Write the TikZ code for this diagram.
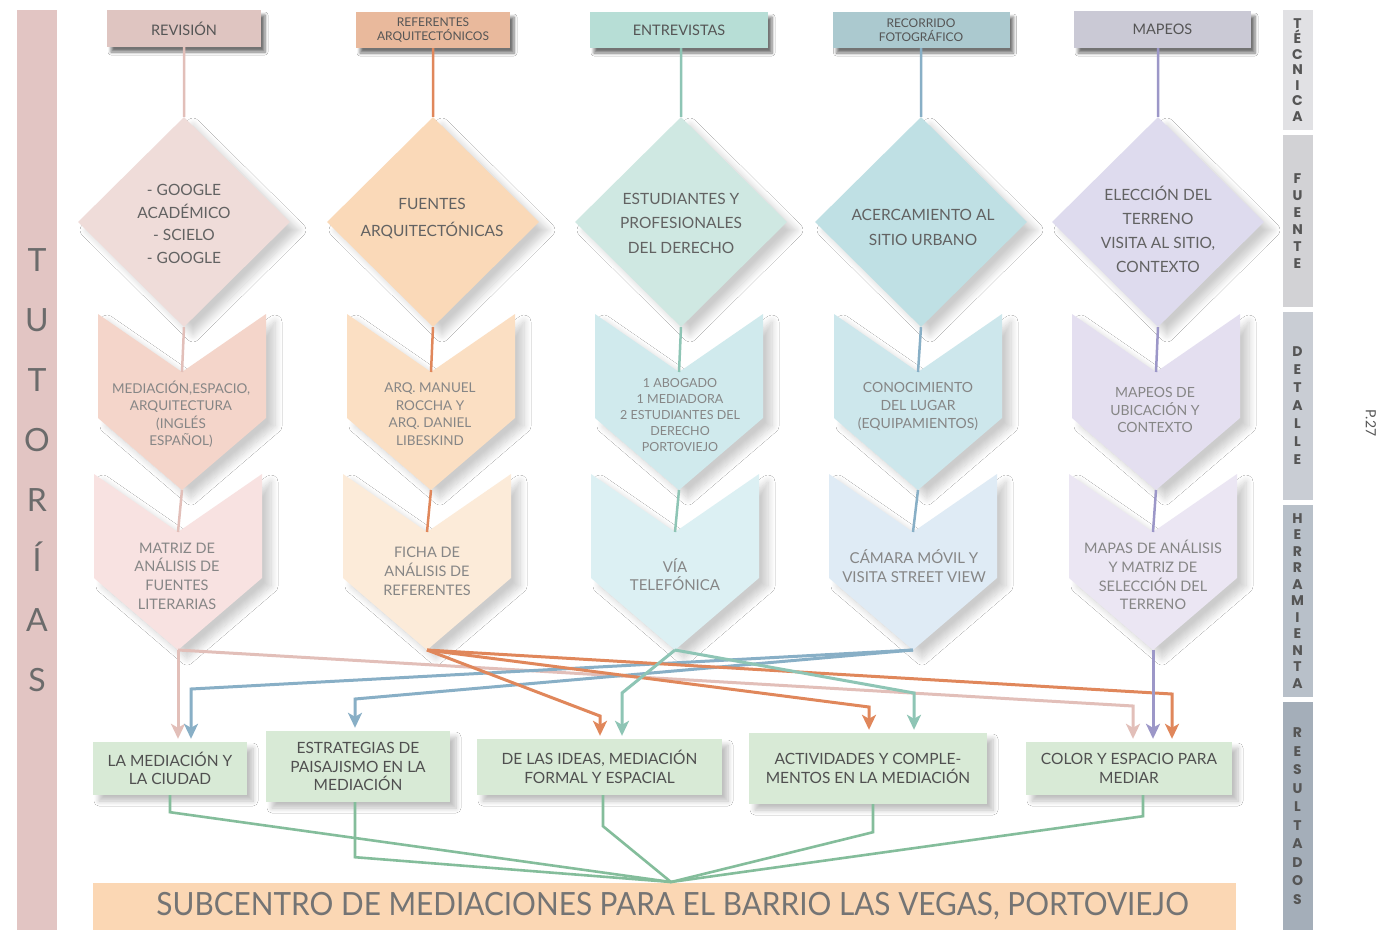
\documentclass[tikz,border=0pt]{standalone}
\usepackage{fontspec}
\setmainfont{Lato}
\newfontfamily\labfont{Poppins}
\usetikzlibrary{arrows.meta,shadows.blur,shapes.geometric}
\definecolor{ctut}{HTML}{E2C5C3}
\definecolor{ctutx}{HTML}{6B6B6B}
\definecolor{htxt}{HTML}{555555}
\definecolor{dtxt}{HTML}{626262}
\definecolor{ctxt}{HTML}{868686}
\definecolor{rtxt}{HTML}{505050}
\definecolor{btxt}{HTML}{747474}
\definecolor{hA}{HTML}{DFC5C1}
\definecolor{hB}{HTML}{E9B99C}
\definecolor{hC}{HTML}{B7DED6}
\definecolor{hD}{HTML}{ABC9CF}
\definecolor{hE}{HTML}{CAC9D5}
\definecolor{dA}{HTML}{EFDCD9}
\definecolor{dB}{HTML}{FAD9B8}
\definecolor{dC}{HTML}{CFE8E2}
\definecolor{dD}{HTML}{BFE0E4}
\definecolor{dE}{HTML}{DEDBEE}
\definecolor{oA}{HTML}{F4D5CA}
\definecolor{oB}{HTML}{FBDFC3}
\definecolor{oC}{HTML}{D0EAED}
\definecolor{oD}{HTML}{CDE7EC}
\definecolor{oE}{HTML}{E4DFF0}
\definecolor{tA}{HTML}{F8E2E1}
\definecolor{tB}{HTML}{FCEBD9}
\definecolor{tC}{HTML}{DCF0F3}
\definecolor{tD}{HTML}{DFEBF5}
\definecolor{tE}{HTML}{EBE6F3}
\definecolor{cres}{HTML}{D8EAD6}
\definecolor{cban}{HTML}{FBD7B4}
\definecolor{bA}{HTML}{E1E1E4}
\definecolor{bB}{HTML}{D2D2D5}
\definecolor{bC}{HTML}{C9CDD4}
\definecolor{bD}{HTML}{B8C0C9}
\definecolor{bE}{HTML}{A4AEB9}
\definecolor{lpink}{HTML}{E2BFB9}
\definecolor{lorange}{HTML}{E0875B}
\definecolor{lteal}{HTML}{8EC5B5}
\definecolor{lblue}{HTML}{88AFC6}
\definecolor{lpurple}{HTML}{9C97C8}
\definecolor{lgreen}{HTML}{84BD9B}
\tikzset{
  hdr/.style={fill=#1, minimum height=37pt, inner sep=0pt, align=center, text=htxt,
    blur shadow={shadow xshift=4pt,shadow yshift=-5pt,shadow opacity=55,shadow blur radius=3pt,shadow blur steps=6}},
  dia/.style={shape=diamond, aspect=1, fill=#1, minimum width=212pt, minimum height=210pt, inner sep=0pt,
    blur shadow={shadow xshift=9pt,shadow yshift=-8pt,shadow opacity=20,shadow blur radius=7pt,shadow blur steps=10}},
  chevsh/.style={blur shadow={shadow xshift=9pt,shadow yshift=-8pt,shadow opacity=20,shadow blur radius=7pt,shadow blur steps=10}},
  dtext/.style={align=center, text=dtxt, inner sep=0pt},
  ctext/.style={align=center, text=ctxt, inner sep=0pt},
  resbox/.style={fill=cres, inner sep=0pt, align=center, text=rtxt, font=\fontsize{15.5}{18.5}\selectfont,
    blur shadow={shadow xshift=6pt,shadow yshift=-6pt,shadow opacity=25,shadow blur radius=5pt,shadow blur steps=8}},
  rbar/.style={minimum width=30pt, inner sep=0pt, align=center, text=htxt},
  colline/.style={line width=2.5pt},
  arr/.style={line width=3pt, -{Stealth[length=15pt,width=14pt,inset=4pt]}, shorten >=3pt},
  gline/.style={line width=2.6pt, draw=lgreen},
}
\newcommand\chev[4]{%
  \path[fill=#4, chevsh] (#2-84,#3) -- (#2,#3+58) -- (#2+84,#3) -- (#2+84,#3+104) -- (#2,#3+176) -- (#2-84,#3+104) -- cycle;
  \coordinate (#1n) at (#2,#3+58);
  \coordinate (#1p) at (#2,#3+176);}
\begin{document}
\begin{tikzpicture}[x=1pt,y=-1pt]
\useasboundingbox (0,0) rectangle (1379,930);
\fill[white] (0,0) rectangle (1379,930);

% left bar
\node[fill=ctut, minimum width=40pt, minimum height=920pt, inner sep=0pt, align=center, text=ctutx,
  font=\fontsize{32}{60}\selectfont] (tut) at (37,470) {T\\U\\T\\O\\R\\Í\\A\\S};

% right bars
\node[rbar, fill=bA, minimum height=120pt, font=\labfont\bfseries\fontsize{14}{15.5}\selectfont] (tec) at (1297.5,70) {T\\É\\C\\N\\I\\C\\A};
\node[rbar, fill=bB, minimum height=172pt, font=\labfont\bfseries\fontsize{14}{17}\selectfont] (fue) at (1297.5,221) {F\\U\\E\\N\\T\\E};
\node[rbar, fill=bC, minimum height=188pt, font=\labfont\bfseries\fontsize{14}{18}\selectfont] (det) at (1297.5,406) {D\\E\\T\\A\\L\\L\\E};
\node[rbar, fill=bD, minimum height=192pt, font=\labfont\bfseries\fontsize{14}{16.5}\selectfont] (her) at (1297.5,601) {H\\E\\R\\R\\A\\M\\I\\E\\N\\T\\A};
\node[rbar, fill=bE, minimum height=228pt, font=\labfont\bfseries\fontsize{14}{18.5}\selectfont] (res) at (1297.5,816) {R\\E\\S\\U\\L\\T\\A\\D\\O\\S};
\node[rotate=-90, text=htxt, font=\fontsize{14}{14}\selectfont, inner sep=0pt] (pg) at (1371,423) {P.27};

% headers
\node[hdr=hA, minimum width=154pt, font=\fontsize{14.5}{16}\selectfont] (h1) at (184,28.5) {REVISIÓN};
\node[hdr=hB, minimum width=154pt, minimum height=36pt, font=\fontsize{12}{14.5}\selectfont] (h2) at (433,30) {REFERENTES\\ARQUITECTÓNICOS};
\node[hdr=hC, minimum width=178pt, minimum height=36pt, font=\fontsize{14.5}{16}\selectfont] (h3) at (679,30) {ENTREVISTAS};
\node[hdr=hD, minimum width=177pt, minimum height=36pt, font=\fontsize{12}{14.5}\selectfont] (h4) at (921,30) {RECORRIDO\\FOTOGRÁFICO};
\node[hdr=hE, minimum width=177pt, font=\fontsize{14.5}{16}\selectfont] (h5) at (1162.5,29.5) {MAPEOS};

% chevrons row 2
\chev{c21}{178}{474}{tA}
\chev{c22}{427}{474}{tB}
\chev{c23}{675}{474}{tC}
\chev{c24}{913}{474}{tD}
\chev{c25}{1153}{474}{tE}
% chevrons row 1
\chev{c11}{182}{314}{oA}
\chev{c12}{431}{314}{oB}
\chev{c13}{679}{314}{oC}
\chev{c14}{918}{314}{oD}
\chev{c15}{1156}{314}{oE}

% diamonds
\node[dia=dA] (d1) at (184,222) {};
\node[dia=dB] (d2) at (433,222) {};
\node[dia=dC] (d3) at (681,222) {};
\node[dia=dD] (d4) at (921,222) {};
\node[dia=dE] (d5) at (1158,222) {};

% column lines
\draw[colline, draw=lpink] (h1.south) -- (d1.north) (d1.south) -- (c11n) (c11p) -- (c21n);
\draw[colline, draw=lorange] (h2.south) -- (d2.north) (d2.south) -- (c12n) (c12p) -- (c22n);
\draw[colline, draw=lteal] (d3.north |- h3.south) -- (d3.north) (d3.south) -- (c13n) (c13p) -- (c23n);
\draw[colline, draw=lblue] (h4.south) -- (d4.north) (d4.south) -- (c14n) (c14p) -- (c24n);
\draw[colline, draw=lpurple] (d5.north |- h5.south) -- (d5.north) (d5.south) -- (c15n) (c15p) -- (c25n);

% diamond texts
\node[dtext, font=\fontsize{15.5}{22.5}\selectfont] (t1) at (184,224) {- GOOGLE\\ACADÉMICO\\- SCIELO\\- GOOGLE};
\node[dtext, font=\fontsize{15.5}{27}\selectfont] (t2) at (432,219) {FUENTES\\ARQUITECTÓNICAS};
\node[dtext, font=\fontsize{15.5}{24.5}\selectfont] (t3) at (681,223) {ESTUDIANTES Y\\PROFESIONALES\\DEL DERECHO};
\node[dtext, font=\fontsize{15.5}{25}\selectfont] (t4) at (923,227) {ACERCAMIENTO AL\\SITIO URBANO};
\node[dtext, font=\fontsize{15.5}{24}\selectfont] (t5) at (1158,229) {ELECCIÓN DEL\\TERRENO\\VISITA AL SITIO,\\CONTEXTO};

% chevron texts
\node[ctext, font=\fontsize{13.5}{17.5}\selectfont] (x11) at (181,414) {MEDIACIÓN,ESPACIO,\\ARQUITECTURA\\(INGLÉS\\ESPAÑOL)};
\node[ctext, font=\fontsize{13.5}{17.5}\selectfont] (x12) at (430,414) {ARQ. MANUEL\\ROCCHA Y\\ARQ. DANIEL\\LIBESKIND};
\node[ctext, font=\fontsize{12.5}{16}\selectfont] (x13) at (680,415) {1 ABOGADO\\1 MEDIADORA\\2 ESTUDIANTES DEL\\DERECHO\\PORTOVIEJO};
\node[ctext, font=\fontsize{14}{18}\selectfont] (x14) at (918,406) {CONOCIMIENTO\\DEL LUGAR\\(EQUIPAMIENTOS)};
\node[ctext, font=\fontsize{14}{17.5}\selectfont] (x15) at (1155,410) {MAPEOS DE\\UBICACIÓN Y\\CONTEXTO};
\node[ctext, font=\fontsize{14.5}{18.7}\selectfont] (x21) at (177,576) {MATRIZ DE\\ANÁLISIS DE\\FUENTES\\LITERARIAS};
\node[ctext, font=\fontsize{14.5}{19}\selectfont] (x22) at (427,571) {FICHA DE\\ANÁLISIS DE\\REFERENTES};
\node[ctext, font=\fontsize{15}{18}\selectfont] (x23) at (675,575) {VÍA\\TELEFÓNICA};
\node[ctext, font=\fontsize{15}{19.5}\selectfont] (x24) at (914,566) {CÁMARA MÓVIL Y\\VISITA STREET VIEW};
\node[ctext, font=\fontsize{14.5}{18.7}\selectfont] (x25) at (1153,575) {MAPAS DE ANÁLISIS\\Y MATRIZ DE\\SELECCIÓN DEL\\TERRENO};

% result boxes
\node[resbox, minimum width=154pt, minimum height=53pt] (r1) at (170,768.5) {LA MEDIACIÓN Y\\LA CIUDAD};
\node[resbox, minimum width=184pt, minimum height=71pt] (r2) at (358,766.5) {ESTRATEGIAS DE\\PAISAJISMO EN LA\\MEDIACIÓN};
\node[resbox, minimum width=245pt, minimum height=56pt] (r3) at (599.5,767) {DE LAS IDEAS, MEDIACIÓN\\FORMAL Y ESPACIAL};
\node[resbox, minimum width=238pt, minimum height=71pt] (r4) at (868,768.5) {ACTIVIDADES Y COMPLE-\\MENTOS EN LA MEDIACIÓN};
\node[resbox, minimum width=206pt, minimum height=53pt] (r5) at (1129,768.5) {COLOR Y ESPACIO PARA\\MEDIAR};

% arrows
\draw[arr, draw=lpink] (c21p) -- (c21p |- r1.north);
\draw[arr, draw=lpink] (c21p) -- (1133,706) -- (1133,706 |- r5.north);
\draw[arr, draw=lblue] (c24p) -- (191,689) -- (191,689 |- r1.north);
\draw[arr, draw=lblue] (c24p) -- (355,699) -- (355,699 |- r2.north);
\draw[arr, draw=lorange] (c22p) -- (600,716) -- (600,716 |- r3.north);
\draw[arr, draw=lorange] (c22p) -- (869,707) -- (869,707 |- r4.north);
\draw[arr, draw=lorange] (c22p) -- (1172,694) -- (1172,694 |- r5.north);
\draw[arr, draw=lteal] (c23p) -- (622,693) -- (622,693 |- r3.north);
\draw[arr, draw=lteal] (c23p) -- (914,693) -- (914,693 |- r4.north);
\draw[arr, draw=lpurple] (c25p) -- (c25p |- r5.north);

% banner
\node[fill=cban, minimum width=1143pt, minimum height=47pt, inner sep=0pt, text=btxt,
  font=\fontsize{32}{34}\selectfont] (ban) at (664.5,906.5) {\hspace*{16pt}\scalebox{0.93}[1]{SUBCENTRO DE MEDIACIONES PARA EL BARRIO LAS VEGAS, PORTOVIEJO}};
\coordinate (hub) at (671,882);

% green lines
\draw[gline] (r1.south) -- ++(0,17) -- (hub);
\draw[gline] ([xshift=-3pt]r2.south) -- ++(0,55) -- (hub);
\draw[gline] ([xshift=3.5pt]r3.south) -- ++(0,31) -- (hub);
\draw[gline] ([xshift=5pt]r4.south) -- ++(0,28) -- (hub);
\draw[gline] ([xshift=14pt]r5.south) -- ++(0,21) -- (hub);
\end{tikzpicture}
\end{document}
